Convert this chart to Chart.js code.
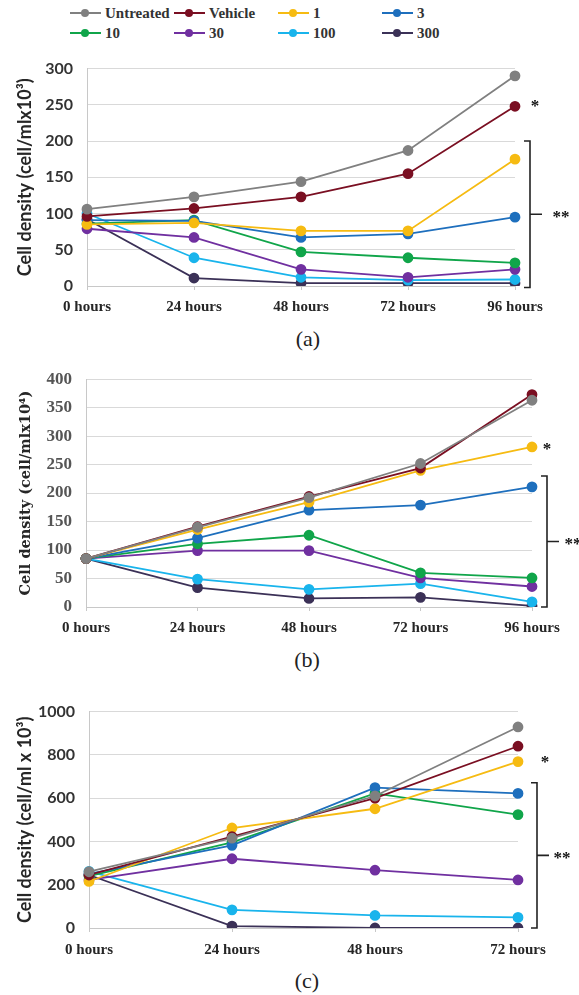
<!DOCTYPE html>
<html>
<head>
<meta charset="utf-8">
<script src="https://cdn.jsdelivr.net/npm/chart.js@4.4.0/dist/chart.umd.min.js"></script>
<style>
  body { margin: 0; background: #fff; }
  #page { position: relative; width: 579px; height: 995px; overflow: hidden; }
  .box { position: absolute; left: 0; width: 579px; }
  .panel { position: absolute; width: 60px; text-align: center; font: 22px "Liberation Serif", serif; color: #222; }
  .leg { position: absolute; height: 20px; display: flex; align-items: center; font: bold 15px "Liberation Serif", serif; color: #333; }
  .leg .ln { position: relative; width: 31px; height: 2px; margin-right: 4px; }
  .leg .dt { position: absolute; left: 11px; top: -3px; width: 8px; height: 8px; border-radius: 50%; }
</style>
</head>
<body>
<div id="page">
  <div id="legend"></div>
  <div class="box" style="top:45px;height:270px"><canvas id="chartA"></canvas></div>
  <div class="panel" style="left:278px;top:326px">(a)</div>
  <div class="box" style="top:355px;height:285px"><canvas id="chartB"></canvas></div>
  <div class="panel" style="left:277px;top:647px">(b)</div>
  <div class="box" style="top:688px;height:277px"><canvas id="chartC"></canvas></div>
  <div class="panel" style="left:277px;top:968px">(c)</div>
</div>
<script>
const seriesNames = ['Untreated', 'Vehicle', '1', '3', '10', '30', '100', '300'];
const seriesColors = ['#808080', '#7a0f22', '#f6bb12', '#1e6fbd', '#10a54a', '#7030a0', '#19b4ec', '#3b3157'];

const hoursLong = ['0 hours', '24 hours', '48 hours', '72 hours', '96 hours'];
const hoursShort = ['0 hours', '24 hours', '48 hours', '72 hours'];

// panel (a), cell/ml x10^3
const untreatedA = [106, 123, 144, 187, 290];
const vehicleA = [96, 107, 123, 155, 248];
const oneA = [85, 87, 76, 76, 175];
const threeA = [91, 90, 67, 72, 95];
const tenA = [86, 91, 47, 39, 32];
const thirtyA = [79, 67, 23, 12, 23];
const hundredA = [100, 39, 12, 8, 9];
const threeHundredA = [92, 11, 4, 4, 4];

// panel (b), cell/ml x10^4
const untreatedB = [85, 140, 192, 252, 363];
const vehicleB = [85, 141, 194, 244, 373];
const oneB = [85, 136, 184, 240, 281];
const threeB = [85, 121, 170, 179, 211];
const tenB = [85, 111, 126, 60, 51];
const thirtyB = [85, 99, 99, 51, 36];
const hundredB = [85, 49, 31, 41, 9];
const threeHundredB = [85, 34, 15, 17, 2];

// panel (c), cell/ml x10^3
const untreatedC = [260, 415, 610, 929];
const vehicleC = [245, 422, 600, 840];
const oneC = [215, 462, 551, 769];
const threeC = [250, 382, 649, 622];
const tenC = [240, 396, 622, 524];
const thirtyC = [222, 320, 267, 222];
const hundredC = [262, 84, 58, 49];
const threeHundredC = [245, 9, 0, 0];

// legend
const legend = document.getElementById('legend');
const legX = [70, 174, 278, 382];
seriesNames.forEach((name, i) => {
  const item = document.createElement('div');
  item.className = 'leg';
  item.style.left = legX[i % 4] + 'px';
  item.style.top = (i < 4 ? 3 : 23) + 'px';
  item.innerHTML = '<span class="ln" style="background:' + seriesColors[i] + '"><span class="dt" style="background:' +
    seriesColors[i] + '"></span></span>' + name;
  legend.appendChild(item);
});

// bracket and asterisk marks beside each panel
const marksPlugin = {
  id: 'marks',
  afterDraw(chart, args, o) {
    const { ctx, chartArea, scales } = chart;
    const y = scales.y;
    const r = chartArea.right;
    ctx.save();
    ctx.fillStyle = '#111';
    ctx.strokeStyle = '#222';
    ctx.lineWidth = 1.6;
    ctx.font = 'bold 17px "Liberation Serif", serif';
    ctx.textAlign = 'center';
    ctx.textBaseline = 'middle';
    ctx.fillText('*', r + o.starDx, y.getPixelForValue(o.star) + 3);
    const bx = r + o.bracketDx;
    const t = y.getPixelForValue(o.bracket[0]);
    const b = y.getPixelForValue(o.bracket[1]);
    const m = (t + b) / 2;
    ctx.beginPath();
    ctx.moveTo(bx - 6, t);
    ctx.lineTo(bx, t);
    ctx.lineTo(bx, b);
    ctx.lineTo(bx - 6, b);
    ctx.moveTo(bx, m);
    ctx.lineTo(bx + 12, m);
    ctx.stroke();
    ctx.fillText('**', r + o.dblDx, m + 3);
    ctx.restore();
  }
};

function makeChart(id, cfg) {
  const datasets = cfg.series.map((vals, i) => ({
    label: seriesNames[i],
    data: vals,
    borderColor: seriesColors[i],
    backgroundColor: seriesColors[i],
    borderWidth: 1.8,
    pointRadius: 4.5,
    pointHoverRadius: 4.5,
    tension: 0
  }));
  return new Chart(document.getElementById(id), {
    type: 'line',
    data: { labels: cfg.labels, datasets },
    plugins: [marksPlugin],
    options: {
      responsive: true,
      maintainAspectRatio: false,
      animation: false,
      layout: { padding: { left: 0, right: 579 - cfg.right, top: cfg.top, bottom: 0 } },
      plugins: {
        legend: { display: false },
        tooltip: { enabled: false },
        marks: cfg.marks
      },
      scales: {
        x: {
          offset: false,
          grid: { drawOnChartArea: false, tickLength: 4, color: '#c8c8c8' },
          border: { color: '#c8c8c8' },
          ticks: { color: '#262626', padding: cfg.xPad, maxRotation: 0,
                   font: { family: '"Liberation Serif", serif', weight: 'bold', size: 15 } },
          afterFit: s => { s.height = cfg.xHeight; }
        },
        y: {
          min: 0,
          max: cfg.max,
          ticks: { stepSize: cfg.step, color: cfg.tickColor, padding: 14, font: cfg.tickFont,
                   callback: v => String(v) },
          grid: { color: '#d9d9d9', drawTicks: false },
          border: { color: '#c8c8c8' },
          title: { display: true, text: cfg.title, color: '#262626', font: cfg.titleFont,
                   padding: { top: cfg.titlePad, bottom: 0 } },
          afterFit: s => { s.width = cfg.left; }
        }
      }
    }
  });
}

const sansBold = { family: 'Lato, sans-serif', weight: 'bold', size: 16 };
const sansTitle = { family: 'Lato, sans-serif', weight: 'bold', size: 18 };
const serifBold = { family: '"Liberation Serif", serif', weight: 'bold', size: 17 };
const serifTitle = { family: '"DejaVu Serif", serif', weight: 'bold', size: 14.5 };

makeChart('chartA', {
  labels: hoursLong,
  series: [untreatedA, vehicleA, oneA, threeA, tenA, thirtyA, hundredA, threeHundredA],
  max: 300, step: 50, left: 87, right: 515, top: 20, xHeight: 29, xPad: 8,
  title: 'Cell density (cell/mlx10³)', tickFont: sansBold, titleFont: sansTitle, titlePad: 14, tickColor: '#333',
  marks: { star: 252, starDx: 20, bracket: [200, -2], bracketDx: 15, dblDx: 46 }
});

makeChart('chartB', {
  labels: hoursLong,
  series: [untreatedB, vehicleB, oneB, threeB, tenB, thirtyB, hundredB, threeHundredB],
  max: 400, step: 50, left: 86, right: 532, top: 17, xHeight: 33, xPad: 8,
  title: 'Cell density (cell/mlx10⁴)', tickFont: serifBold, titleFont: serifTitle, titlePad: 18, tickColor: '#555',
  marks: { star: 281, starDx: 15, bracket: [230, 0], bracketDx: 15, dblDx: 41 }
});

makeChart('chartC', {
  labels: hoursShort,
  series: [untreatedC, vehicleC, oneC, threeC, tenC, thirtyC, hundredC, threeHundredC],
  max: 1000, step: 200, left: 89, right: 518, top: 15, xHeight: 37, xPad: 9,
  title: 'Cell density (cell/ml x 10³)', tickFont: sansBold, titleFont: sansTitle, titlePad: 14, tickColor: '#333',
  marks: { star: 778, starDx: 27, bracket: [671, 0], bracketDx: 19, dblDx: 44 }
});
</script>
</body>
</html>
